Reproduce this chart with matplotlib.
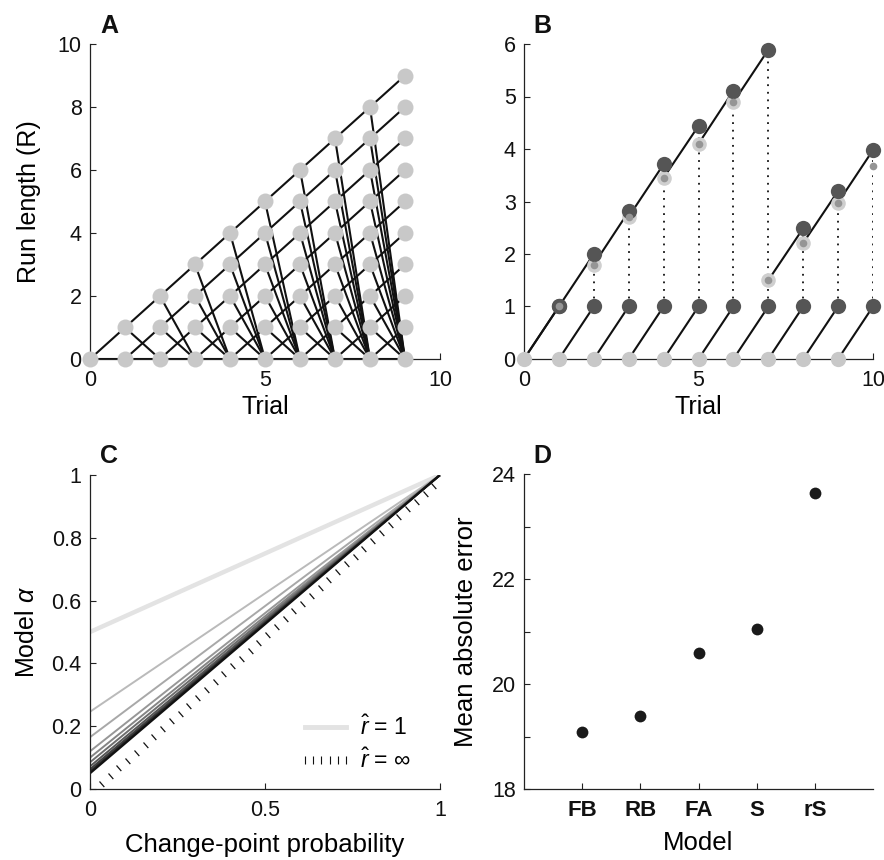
import numpy as np
import matplotlib
matplotlib.use("Agg")
import matplotlib.pyplot as plt
from matplotlib.lines import Line2D
from matplotlib.ticker import FixedLocator

plt.rcParams['font.family'] = ['Liberation Sans', 'DejaVu Sans']
plt.rcParams['mathtext.fontset'] = 'custom'
plt.rcParams['mathtext.rm'] = 'Liberation Sans'
plt.rcParams['mathtext.it'] = 'Liberation Sans:italic'
plt.rcParams['mathtext.bf'] = 'Liberation Sans:bold'

# ---------------- data ----------------
# Panel A: full run-length tree
a_trials = [0, 1, 2, 3, 4, 5, 6, 7, 8, 9]

# Panel B: reduced model
b_trials = [0, 1, 2, 3, 4, 5, 6, 7, 8, 9, 10]
b_expected = [0.0, 1.0, 1.8, 2.71, 3.45, 4.10, 4.89, 1.50, 2.21, 2.98, 3.68]
b_grow = [1.0, 2.0, 2.81, 3.71, 4.44, 5.11, 5.89, 2.49, 3.20, 3.98]   # trials 1..10
b_reset = [1.0] * 10                                                  # trials 1..10

# Panel C: learning rate vs change-point probability
c_cp = [0.0, 1.0]
c_intercepts = [0.5, 0.246, 0.165, 0.12, 0.10, 0.085, 0.072, 0.063, 0.056, 0.05]
c_grays = ['#e3e3e3', '#bababa', '#a8a8a8', '#979797', '#858585',
           '#6e6e6e', '#575757', '#404040', '#282828', '#111111']
c_widths = [3.2, 1.4, 1.4, 1.4, 1.4, 1.4, 1.4, 1.4, 1.4, 1.6]

# Panel D: model fits
d_models = ['FB', 'RB', 'FA', 'S', 'rS']
d_mae = [19.09, 19.39, 20.59, 21.04, 23.63]

LIGHT = '#c8c8c8'
DARK = '#555555'
MID = '#959595'

fig = plt.figure(figsize=(8.84, 8.60), dpi=100)
W, H = 884.0, 860.0

def add_ax(l, r, t, b):
    return fig.add_axes([l / W, 1 - b / H, (r - l) / W, (b - t) / H])

axA = add_ax(90, 440, 44, 359)
axB = add_ax(524, 873, 44, 359)
axC = add_ax(90, 440, 475, 789)
axD = add_ax(524, 873, 474, 789)

for ax in (axA, axB, axC, axD):
    for s in ('top', 'right'):
        ax.spines[s].set_visible(False)
    for s in ('left', 'bottom'):
        ax.spines[s].set_linewidth(0.9)
        ax.spines[s].set_color('#222222')
    ax.tick_params(direction='in', length=4, width=0.8, labelsize=15.5,
                   colors='#222222', labelcolor='#111111')
    ax.tick_params(axis='x', pad=8)
    ax.tick_params(axis='y', pad=6)

# ---------------- Panel A ----------------
for t in a_trials[:-1]:
    for r in range(t + 1):
        axA.plot([t, t + 1], [r, r + 1], color='#111111', lw=1.5, zorder=2)
        axA.plot([t, t + 1], [r, 0], color='#111111', lw=1.5, zorder=2)
for t in a_trials:
    axA.plot([t] * (t + 1), list(range(t + 1)), 'o', color=LIGHT, ms=11.5,
             mec='none', zorder=3, clip_on=False)
axA.set_xlim(0, 10)
axA.set_ylim(0, 10)
axA.set_xticks([0, 5, 10])
axA.set_yticks([0, 2, 4, 6, 8, 10])
axA.set_xlabel('Trial', fontsize=18, labelpad=3)
axA.set_ylabel('Run length (R)', fontsize=18, labelpad=12)

# ---------------- Panel B ----------------
t_next = b_trials[1:]
for i, t in enumerate(t_next):
    # growth branch from expected run length
    axB.plot([t - 1, t], [b_expected[t - 1], b_grow[i]], color='#111111', lw=1.5, zorder=2)
    # change-point branch
    axB.plot([t - 1, t], [0, b_reset[i]], color='#111111', lw=1.5, zorder=2)
    if b_grow[i] > b_reset[i]:
        axB.plot([t, t], [b_reset[i], b_grow[i]], color='#111111', lw=1.3,
                 ls=(0, (1, 3.2)), zorder=1)
axB.plot(b_trials[:-1], [0] * (len(b_trials) - 1), 'o', color=LIGHT, ms=11,
         mec='none', zorder=3, clip_on=False)
axB.plot(b_trials[1:-1], b_expected[1:-1], 'o', color='#cfcfcf', ms=10.5,
         mec='none', zorder=3)
axB.plot(t_next, b_reset, 'o', color=DARK, ms=11, mec='none', zorder=4, clip_on=False)
axB.plot(t_next, b_grow, 'o', color=DARK, ms=11, mec='none', zorder=4, clip_on=False)
axB.plot(b_trials[1:], b_expected[1:], 'o', color=MID, ms=5.5, mec='none', zorder=5,
         clip_on=False)
axB.set_xlim(0, 10)
axB.set_ylim(0, 6)
axB.set_xticks([0, 5, 10])
axB.set_yticks([0, 1, 2, 3, 4, 5, 6])
axB.set_xlabel('Trial', fontsize=18, labelpad=3)

# ---------------- Panel C ----------------
for a0, g, lw in zip(c_intercepts, c_grays, c_widths):
    axC.plot(c_cp, [a0, 1.0], color=g, lw=lw, solid_capstyle='butt', zorder=2)
inf_pts = np.linspace(0.025, 1.0, 40)
axC.plot(inf_pts, inf_pts, ls='None', marker=[(0, 0), (1, -1.15)],
         ms=8, mec='#111111', mfc='none', mew=0.9, zorder=3)
axC.set_xlim(0, 1)
axC.set_ylim(0, 1)
axC.set_xticks([0, 0.5, 1])
axC.set_xticklabels(['0', '0.5', '1'])
axC.set_yticks([0, 0.2, 0.4, 0.6, 0.8, 1])
axC.set_yticklabels(['0', '0.2', '0.4', '0.6', '0.8', '1'])
axC.set_xlabel('Change-point probability', fontsize=18.5, labelpad=8.5)
axC.set_ylabel(r'Model $\alpha$', fontsize=18, labelpad=9)
handles = [Line2D([], [], color=c_grays[0], lw=3.5),
           Line2D([], [], color='#111111', marker='|', ls='None', ms=5.5, mew=0.8)]
axC.legend(handles, [r'$\hat{r}$ = 1', r'$\hat{r}$ = ∞'], loc='lower left',
           bbox_to_anchor=((298 - 90) / 350, 0.05), frameon=False, fontsize=16.5,
           numpoints=6, handlelength=2.4, handletextpad=0.3, labelspacing=0.4,
           borderpad=0, borderaxespad=0)

# ---------------- Panel D ----------------
d_x = list(range(1, len(d_models) + 1))
axD.plot(d_x, d_mae, 'o', color='#1a1a1a', ms=8.5, mec='none', ls='None')
axD.set_xlim(0, 6)
axD.set_ylim(18, 24)
axD.set_xticks(d_x)
axD.set_xticklabels(d_models, fontweight='bold', fontsize=16)
axD.yaxis.set_major_locator(FixedLocator([18, 20, 22, 24]))
axD.yaxis.set_minor_locator(FixedLocator([19, 21, 23]))
axD.tick_params(axis='y', which='minor', direction='in', length=4, width=0.8,
                colors='#222222')
axD.set_xlabel('Model', fontsize=18.5, labelpad=7)
axD.set_ylabel('Mean absolute error', fontsize=18.5, labelpad=10)

# panel letters
for lab, x, y in (('A', 100, 33), ('B', 533, 33), ('C', 100, 463), ('D', 533, 463)):
    fig.text(x / W, 1 - y / H, lab, fontsize=18, fontweight='bold', va='baseline',
             ha='left', color='#111111')

fig.savefig('out.png', dpi=100)
